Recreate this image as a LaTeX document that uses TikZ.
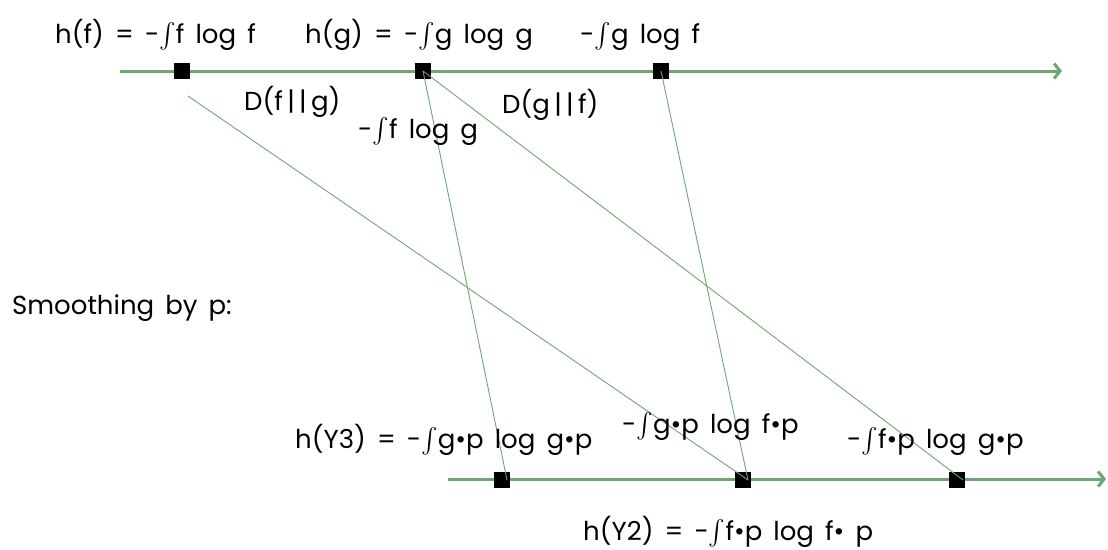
\documentclass[tikz,border=0pt]{standalone}
\usepackage{fontspec}
\usepackage{exscale}
\setmainfont{Poppins}[WordSpace=1.6]
\usetikzlibrary{arrows.meta}
\definecolor{axisgreen}{RGB}{112,165,115}
\newcommand{\intg}{-$\int$}
\begin{document}
\begin{tikzpicture}[x=1pt, y=-1pt,
  every node/.style={font=\fontsize{26}{30}\selectfont},
  sq/.style={fill=black, minimum size=16pt, inner sep=0pt},
  lbl/.style={anchor=base west, inner sep=0pt},
  axis/.style={draw=axisgreen, line width=3pt, -{Straight Barb[length=6pt,width=15pt]}},
  link/.style={draw=axisgreen, line width=0.9pt}]
\useasboundingbox (0,0) rectangle (1108,549);

% top axis and its points
\coordinate (tstart) at (120,71);
\coordinate (tend) at (1062,71);
\draw[axis] (tstart) -- (tend);
\node[sq] (f) at (182,71) {};
\node[sq] (g) at (423,71) {};
\node[sq] (gf) at (661,71) {};

% bottom axis (smoothed)
\coordinate (bstart) at (448,479);
\coordinate (bend) at (1106,479);
\draw[axis] (bstart) -- (bend);
\node[sq] (y3) at (502,480) {};
\node[sq] (y2) at (743,480) {};
\node[sq] (fp) at (957,480) {};

% connectors
\coordinate (fstart) at (188,96);
\draw[link] (fstart) -- ([xshift=5pt]y2.center);
\draw[link] (g.center) -- ([xshift=5pt]y3.center);
\draw[link] (g.center) -- ([xshift=6pt]fp.center);
\draw[link] (gf.center) -- ([xshift=5pt]y2.center);

% labels, top
\node[lbl] (hf) at (55,43) {h(f) = \intg f log f};
\node[lbl] (hg) at (305,43) {h(g) = \intg g log g};
\node[lbl] (cgf) at (580,43) {\intg g log f};
\node[lbl] (dfg) at (244,110) {D(f\,|\,|\,g)};
\node[lbl] (cfg) at (358,138) {\intg f log g};
\node[lbl] (dgf) at (502,113) {D(g\,|\,|\,f)};
\node[lbl] (smooth) at (12,314) {Smoothing by p:};

% labels, bottom
\node[lbl] (hy3) at (295,448) {h(Y3) = \intg g\textbullet p log g\textbullet p};
\node[lbl] (cgfp) at (622,433) {\intg g\textbullet p log f\textbullet p};
\node[lbl] (cfgp) at (847,448) {\intg f\textbullet p log g\textbullet p};
\node[lbl] (hy2) at (583,540) {h(Y2) = \intg f\textbullet p log f\textbullet{} p};
\end{tikzpicture}
\end{document}
